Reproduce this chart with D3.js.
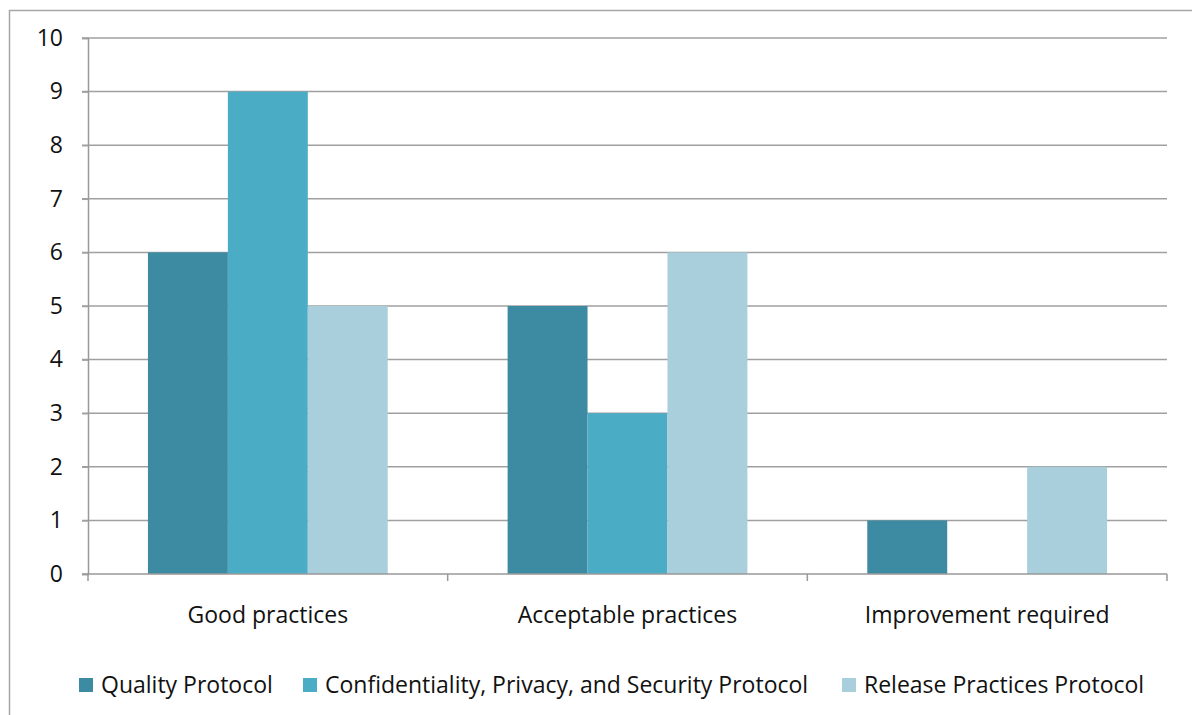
<!DOCTYPE html>
<html>
<head>
<meta charset="utf-8">
<script src="https://cdn.jsdelivr.net/npm/d3@7/dist/d3.min.js"></script>
<style>
  html, body { margin: 0; padding: 0; background: #fff; }
  svg { display: block; }
  text { font-family: "Open Sans", "Noto Sans", sans-serif; fill: #111; }
</style>
</head>
<body>
<svg id="chart" width="1192" height="715"></svg>
<script>
// Assessment outcomes per protocol
const categories = ["Good practices", "Acceptable practices", "Improvement required"];
const seriesNames = ["Quality Protocol", "Confidentiality, Privacy, and Security Protocol", "Release Practices Protocol"];
const qualityValues = [6, 5, 1];
const confidentialityValues = [9, 3, 0];
const releaseValues = [5, 6, 2];
const yTicks = [0, 1, 2, 3, 4, 5, 6, 7, 8, 9, 10];
const seriesColors = ["#3d8ba3", "#4bacc6", "#a9cfdc"];

const seriesValues = [qualityValues, confidentialityValues, releaseValues];

const svg = d3.select("#chart");
const fontSize = 23;

// outer chart frame
svg.append("rect")
  .attr("x", 9.5).attr("y", 10.5)
  .attr("width", 1200).attr("height", 720)
  .attr("fill", "none").attr("stroke", "#a6a6a6").attr("stroke-width", 1.5);

const plot = { left: 88, right: 1167, top: 38, bottom: 574 };

const x = d3.scaleBand().domain(categories).range([plot.left, plot.right]).paddingInner(0).paddingOuter(0);
const inner = d3.scaleBand().domain(d3.range(seriesNames.length))
  .range([0, x.bandwidth()]).paddingInner(0).paddingOuter(0.75);
const y = d3.scaleLinear().domain([0, 10]).range([plot.bottom, plot.top]);

// horizontal gridlines
svg.append("g")
  .selectAll("line").data(yTicks.filter(t => t > 0)).join("line")
  .attr("x1", plot.left - 6).attr("x2", plot.right)
  .attr("y1", d => y(d)).attr("y2", d => y(d))
  .attr("stroke", "#a0a0a0").attr("stroke-width", 1.5);

// bars
const groups = svg.append("g").selectAll("g").data(seriesValues).join("g")
  .attr("fill", (d, i) => seriesColors[i]);
groups.selectAll("rect")
  .data((vals, si) => vals.map((v, ci) => ({ v, ci, si })))
  .join("rect")
  .attr("x", d => x(categories[d.ci]) + inner(d.si))
  .attr("width", inner.bandwidth())
  .attr("y", d => y(d.v))
  .attr("height", d => y(0) - y(d.v));

// y axis
const yAxis = d3.axisLeft(y).tickValues(yTicks).tickSize(6).tickPadding(19).tickFormat(d3.format("d"));
const yg = svg.append("g").attr("transform", `translate(${plot.left},0)`).call(yAxis);
yg.select(".domain").attr("stroke", "#999").attr("stroke-width", 1.5);
yg.selectAll(".tick line").attr("stroke", "#a0a0a0").attr("stroke-width", 1.5);
yg.selectAll(".tick text").attr("font-size", fontSize).attr("fill", "#111")
  .attr("font-family", "\"Open Sans\", sans-serif");

// x axis with boundary ticks between categories
const xg = svg.append("g").attr("transform", `translate(0,${plot.bottom})`);
xg.append("line").attr("x1", plot.left - 6).attr("x2", plot.right)
  .attr("stroke", "#999").attr("stroke-width", 1.5);
const boundaries = categories.map(c => x(c)).concat([x(categories[categories.length - 1]) + x.bandwidth()]);
xg.selectAll("line.tick").data(boundaries).join("line").attr("class", "tick")
  .attr("x1", d => d).attr("x2", d => d).attr("y1", 0).attr("y2", 7)
  .attr("stroke", "#999").attr("stroke-width", 1.5);
xg.selectAll("text").data(categories).join("text")
  .attr("x", d => x(d) + x.bandwidth() / 2)
  .attr("y", 49)
  .attr("text-anchor", "middle")
  .attr("font-size", fontSize)
  .text(d => d);

// legend
const legendX = [79, 303, 842];
const legend = svg.append("g").selectAll("g").data(seriesNames).join("g")
  .attr("transform", (d, i) => `translate(${legendX[i]},678)`);
legend.append("rect").attr("width", 14).attr("height", 14).attr("fill", (d, i) => seriesColors[i]);
legend.append("text").attr("x", 22).attr("y", 15).attr("font-size", fontSize).text(d => d);
</script>
</body>
</html>
